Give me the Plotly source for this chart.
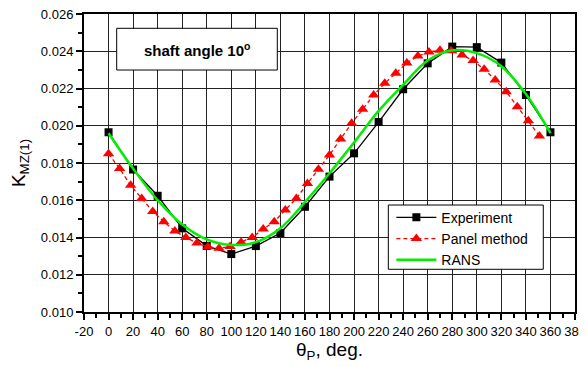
import plotly.graph_objects as go

exp_theta = [0, 20, 40, 60, 80, 100, 120, 140, 160, 180, 200, 220, 240, 260, 280, 300, 320, 340, 360]
exp_k = [0.01965, 0.01765, 0.01624, 0.01449, 0.01355, 0.01311, 0.01354, 0.01424, 0.01565, 0.01727,
         0.01852, 0.0202, 0.02196, 0.02335, 0.02425, 0.02422, 0.02339, 0.02165, 0.01965]

panel_theta = list(range(0, 352, 9))
panel_k = [0.0185, 0.0177, 0.0168, 0.0161, 0.0154, 0.01485, 0.01435, 0.0140, 0.0137, 0.0135,
           0.01342, 0.01352, 0.01375, 0.0140, 0.01445, 0.01485, 0.01548, 0.0161, 0.0169, 0.01766,
           0.01843, 0.01929, 0.02013, 0.02088, 0.02165, 0.02228, 0.02282, 0.02337, 0.02374, 0.02396,
           0.02405, 0.02403, 0.0238, 0.0235, 0.02303, 0.02246, 0.02183, 0.02102, 0.02027, 0.01945]

rans_theta = [0, 20, 40, 60, 80, 100, 120, 140, 160, 180, 200, 220, 240, 260, 280, 300, 320, 340, 360]
rans_k = [0.0196, 0.0177, 0.0160, 0.0147, 0.0139, 0.0136, 0.01375, 0.0145, 0.0159, 0.01745,
          0.0191, 0.0208, 0.0222, 0.0235, 0.02405, 0.0239, 0.0232, 0.0217, 0.0196]

x_tick_vals = list(range(-20, 381, 20))
x_tick_labels = [str(v) for v in x_tick_vals]

FONT = "Arial, Liberation Sans, sans-serif"

fig = go.Figure()
fig.add_trace(go.Scatter(x=exp_theta, y=exp_k, name="Experiment", mode="lines+markers",
                         line=dict(color="black", width=1.3),
                         marker=dict(symbol="square", size=8, color="black")))
fig.add_trace(go.Scatter(x=panel_theta, y=panel_k, name="Panel method", mode="lines+markers",
                         line=dict(color="#ff0000", width=1.3, dash="4px,3px"),
                         marker=dict(symbol="triangle-up", size=10, color="#ff0000")))
fig.add_trace(go.Scatter(x=rans_theta, y=rans_k, name="RANS", mode="lines",
                         line=dict(color="#00ee00", width=2.5, shape="spline")))

axis_common = dict(showline=True, linecolor="black", linewidth=2, mirror=True,
                   ticks="outside", ticklen=6, tickwidth=2, tickcolor="black",
                   showgrid=True, gridcolor="#222222", gridwidth=1, zeroline=False,
                   automargin=False, ticklabeloverflow="allow",
                   tickfont=dict(family=FONT, size=13, color="black"))

fig.update_xaxes(range=[-20, 380], tickmode="array", tickvals=x_tick_vals, ticktext=x_tick_labels,
                 minor=dict(dtick=10, tick0=0, ticks="outside", ticklen=4, tickwidth=2, tickcolor="black", showgrid=False),
                 title=dict(text="θ<sub>P</sub>, deg.", font=dict(family=FONT, size=19, color="black"), standoff=5),
                 **axis_common)
fig.update_yaxes(range=[0.010, 0.026], dtick=0.002, tick0=0.010, tickformat=".3f",
                 minor=dict(dtick=0.001, ticks="outside", ticklen=4, tickwidth=2, tickcolor="black", showgrid=False),
                 title=dict(text="K<sub>MZ(1)</sub>", font=dict(family=FONT, size=19, color="black"), standoff=12),
                 **axis_common)

# title box
fig.add_shape(type="rect", xref="paper", yref="paper", x0=0.0666, x1=0.3937, y0=0.812, y1=0.952,
              line=dict(color="black", width=1), fillcolor="white", layer="above")
fig.add_annotation(xref="paper", yref="paper", x=(0.0666 + 0.3937) / 2, y=(0.812 + 0.952) / 2,
                   xanchor="center", yanchor="middle",
                   text="<b>shaft angle 10<sup>o</sup></b>", showarrow=False,
                   font=dict(family=FONT, size=15, color="black"))

# legend frame
fig.add_shape(type="rect", xref="paper", yref="paper", x0=0.6198, x1=0.9354, y0=0.1433, y1=0.359,
              line=dict(color="black", width=1), fillcolor="white", layer="above")

fig.update_layout(
    width=579, height=359,
    margin=dict(l=76, r=12, t=6, b=55, autoexpand=False),
    paper_bgcolor="white", plot_bgcolor="white",
    font=dict(family=FONT, color="black"),
    legend=dict(x=0.626, y=0.370, xanchor="left", yanchor="top",
                bgcolor="rgba(0,0,0,0)", borderwidth=0,
                font=dict(family=FONT, size=14, color="black"),
                tracegroupgap=0, itemwidth=40),
)

fig.write_html("out.html")
